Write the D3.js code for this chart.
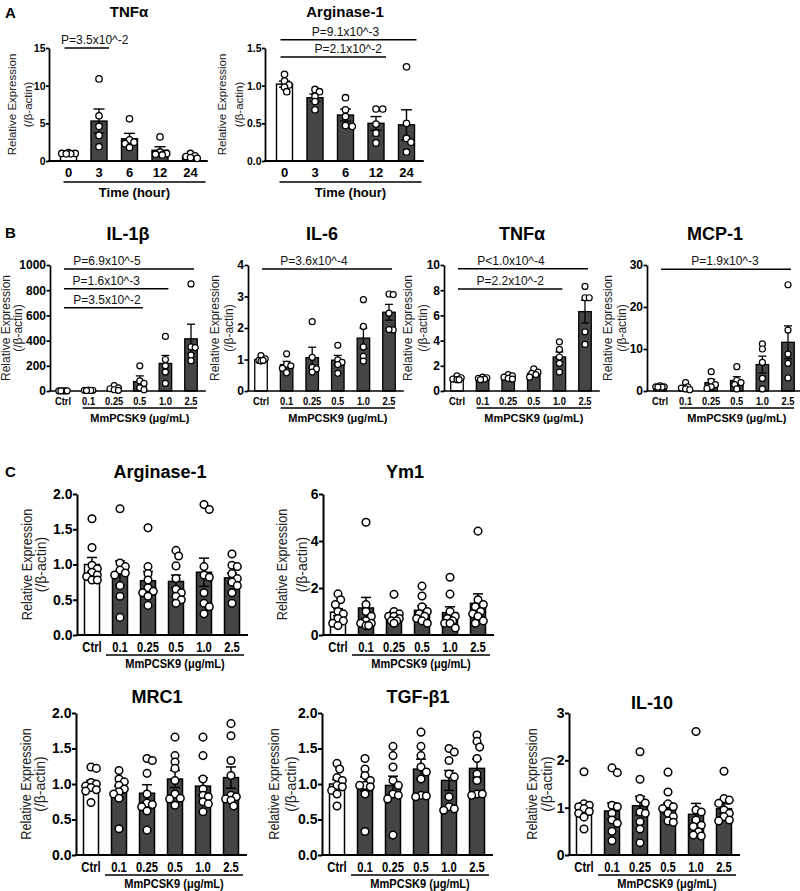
<!DOCTYPE html>
<html><head><meta charset="utf-8">
<script src="https://cdn.jsdelivr.net/npm/d3@7"></script>
<style>body{margin:0;background:#fff}svg{display:block}</style>
</head><body><svg id="fig" width="800" height="891"></svg>
<script>
// ---------------- DATA ----------------
const timeCats = ["0","3","6","12","24"];
const doseCats = ["Ctrl","0.1","0.25","0.5","1.0","2.5"];

// Panel A
const aTnfMean = [1.0, 5.3, 2.95, 1.42, 0.62];
const aTnfSem  = [0.04, 1.6, 0.72, 0.48, 0.11];
const aTnfPts  = [[1.1,1.0,1.0,0.95,0.95],[10.9,6.0,4.6,3.4,1.9],[5.6,2.8,2.5,2.3,1.8],[3.2,1.2,1.0,0.9,0.8],[1.0,0.7,0.6,0.45,0.35]];
const aTnfTicks = [0,5,10,15];
const aArgMean = [1.02,0.84,0.61,0.50,0.48];
const aArgSem  = [0.04,0.05,0.08,0.09,0.2];
const aArgPts  = [[1.15,1.06,1.01,0.98,0.92],[0.95,0.92,0.86,0.79,0.68],[0.84,0.68,0.59,0.47,0.46],[0.69,0.69,0.49,0.37,0.24],[1.25,0.5,0.3,0.25,0.12]];
const aArgTicks = [0,0.5,1.0,1.5];

// Panel B
const bIl1Mean = [1,5,20,75,219,414];
const bIl1Sem  = [0.3,1.5,8,45,63,116];
const bIl1Pts  = [[1.2,0.9,1.0,0.8,1.1],[8,6,5,4,3],[42,25,18,10,5],[200,80,60,25,10],[433,250,200,150,60],[850,350,345,285,240]];
const bIl1Ticks = [0,200,400,600,800,1000];
const bIl6Mean = [1.0,0.84,1.06,0.98,1.68,2.5];
const bIl6Sem  = [0.04,0.1,0.33,0.15,0.32,0.25];
const bIl6Pts  = [[1.12,1.02,0.97,0.95,0.97],[1.18,0.85,0.8,0.72,0.58],[2.2,1.07,0.75,0.7,0.6],[1.45,0.99,0.91,0.84,0.56],[2.9,2.05,1.4,1.1,0.95],[3.08,3.06,2.47,1.94,1.95]];
const bIl6Ticks = [0,1,2,3,4];
const bTnfMean = [1.0,1.0,1.1,1.4,2.7,6.3];
const bTnfSem  = [0.06,0.04,0.07,0.11,0.4,0.9];
const bTnfPts  = [[1.2,1.05,0.95,0.9,0.9],[1.1,1.05,1.0,0.95,0.9],[1.3,1.2,1.1,1.0,0.95],[1.75,1.5,1.4,1.3,1.1],[3.9,3.3,2.7,2.2,1.5],[8.3,7.4,7.4,4.7,3.7]];
const bTnfTicks = [0,2,4,6,8,10];
const bMcpMean = [1.0,0.9,2.0,2.5,6.3,11.6];
const bMcpSem  = [0.06,0.3,0.8,0.9,2.0,3.9];
const bMcpPts  = [[1.2,1.0,1.0,0.9,0.9],[2.0,1.0,0.7,0.5,0.3],[4.6,2.3,1.5,1.0,0.6],[5.8,2.5,2.0,1.5,0.5],[11.2,10.0,6.8,3.0,0.5],[25.3,14.5,8.8,6.6,3.1]];
const bMcpTicks = [0,10,20,30];

// Panel C
const cArgMean = [1.0,0.88,0.77,0.76,0.89,0.81];
const cArgSem  = [0.1,0.17,0.13,0.09,0.2,0.07];
const cArgPts  = [[1.65,1.24,0.99,0.94,0.89,0.85,0.83,0.78,0.78],[1.79,1.02,0.97,0.92,0.88,0.85,0.7,0.55,0.25],[1.52,0.97,0.87,0.78,0.67,0.62,0.6,0.55,0.42],[1.2,1.12,0.98,0.8,0.65,0.6,0.55,0.5,0.45],[1.85,1.78,0.97,0.85,0.82,0.6,0.45,0.4,0.3],[1.15,0.99,0.97,0.87,0.8,0.75,0.7,0.6,0.45]];
const cYm1Mean = [0.97,1.15,0.85,1.05,0.95,1.35];
const cYm1Sem  = [0.15,0.45,0.15,0.2,0.25,0.4];
const cYm1Pts  = [[1.75,1.5,1.3,1.0,0.9,0.7,0.6,0.5,0.4],[4.8,1.3,1.0,0.8,0.6,0.5,0.5,0.4,0.4],[1.73,1.0,0.9,0.8,0.8,0.7,0.6,0.6,0.5],[2.08,1.66,1.2,1.0,0.9,0.8,0.7,0.6,0.5],[2.46,1.74,1.0,0.8,0.7,0.6,0.5,0.5,0.3],[4.42,1.5,1.3,1.2,1.0,0.9,0.8,0.6,0.5]];
const cMrcMean = [1.0,0.89,0.87,1.07,0.97,1.09];
const cMrcSem  = [0.05,0.08,0.12,0.12,0.12,0.15];
const cMrcPts  = [[1.24,1.22,1.02,1.0,0.97,0.95,0.92,0.9,0.74],[1.19,1.07,1.03,0.98,0.93,0.89,0.86,0.8,0.37],[1.36,1.33,1.15,0.86,0.73,0.71,0.68,0.62,0.35],[1.66,1.4,1.31,1.22,1.05,0.86,0.8,0.79,0.7],[1.66,1.4,1.07,0.93,0.84,0.82,0.75,0.72,0.61],[1.85,1.68,1.33,1.12,0.84,0.82,0.79,0.77,0.69]];
const cTgfMean = [1.0,1.0,0.98,1.21,1.05,1.22];
const cTgfSem  = [0.06,0.1,0.13,0.14,0.14,0.13];
const cTgfPts  = [[1.29,1.21,1.09,1.05,0.98,0.96,0.91,0.86,0.69],[1.36,1.21,1.12,1.05,0.98,0.98,0.96,0.86,0.33],[1.53,1.4,1.24,1.05,0.98,0.86,0.84,0.79,0.28],[1.73,1.53,1.4,1.24,1.17,1.07,0.84,0.83,0.82],[1.5,1.45,1.33,1.14,1.1,0.82,0.68,0.65,0.63],[1.69,1.6,1.52,1.36,1.14,1.05,0.86,0.86,0.84]];
const cIl10Mean = [1.0,0.93,1.04,0.98,0.86,0.98];
const cIl10Sem  = [0.1,0.17,0.2,0.12,0.23,0.1];
const cIl10Pts  = [[1.76,1.08,1.05,1.02,0.98,0.92,0.88,0.8,0.55],[1.84,1.74,1.05,1.02,0.88,0.74,0.67,0.5,0.3],[2.18,1.6,1.19,1.1,0.91,0.88,0.7,0.55,0.26],[1.75,1.33,1.08,1.02,0.98,0.88,0.81,0.72,0.69],[2.61,0.95,0.91,0.74,0.63,0.6,0.49,0.42,0.4],[1.77,1.19,1.16,1.09,0.95,0.88,0.81,0.74,0.72]];
const c2Ticks = [0,0.5,1.0,1.5,2.0];
const cYm1Ticks = [0,2,4,6];
const cIl10Ticks = [0,1,2,3];

// significance annotations
const aTnfP = [{from:"0",to:"3",y:15,label:"P=3.5x10^-2"}];
const aArgP = [{from:"0",to:"24",y:1.61,label:"P=9.1x10^-3"},{from:"0",to:"12",y:1.38,label:"P=2.1x10^-2"}];
const bIl1P = [{from:"Ctrl",to:"2.5",y:969,label:"P=6.9x10^-5"},{from:"Ctrl",to:"1.0",y:811,label:"P=1.6x10^-3"},{from:"Ctrl",to:"0.5",y:661,label:"P=3.5x10^-2"}];
const bIl6P = [{from:"Ctrl",to:"2.5",y:3.87,label:"P=3.6x10^-4"}];
const bTnfP = [{from:"Ctrl",to:"2.5",y:9.7,label:"P<1.0x10^-4"},{from:"Ctrl",to:"1.0",y:8.1,label:"P=2.2x10^-2"}];
const bMcpP = [{from:"Ctrl",to:"2.5",y:29,label:"P=1.9x10^-3"}];

const yLab1 = "Relative Expression", yLab2 = "(/β-actin)";
const timeLabel = "Time (hour)", doseLabel = "MmPCSK9 (μg/mL)";

// ---------------- LAYOUT ----------------
const FONT = '"Liberation Sans", Arial, Helvetica, sans-serif';
const PA = {yTop:48,yBot:161,off:19.5,step:30.5,barW:16,capW:11,r:3.2,ptSW:1.3,barSW:1.4,axSW:1.8,tick:3,tpad:0.5,yTickFs:10.5,xTickFs:13,xSq:1,xLabY:177,ulY:182,ulL:-5,ulR:15,grpY:197,grpFs:13,grpSq:1,titleFs:15,titleY:17,tdx:80,ylFs:11.5,ylSq:1,annL:-4,annR:10,annFs:12};
const PB = {yTop:265,yBot:391,off:13,step:25.6,barW:12.5,capW:8,r:3,ptSW:1.2,barSW:1.3,axSW:1.7,tick:3.5,tpad:0.5,yTickFs:12,xTickFs:11,xSq:0.85,xLabY:405,ulY:408,ulL:-6,ulR:6,grpY:422,grpFs:11,grpSq:1,titleFs:18,titleY:240,tdx:75,ylFs:12,ylSq:1,annL:1,annR:3,annFs:12};
const PC1 = {yTop:494,yBot:635,off:15,step:28,barW:15,capW:10,r:3.8,ptSW:1.5,barSW:1.5,axSW:2,tick:4,tpad:0.5,yTickFs:14,xTickFs:14,xSq:0.8,xLabY:652,ulY:655,ulL:-14,ulR:12,grpY:668,grpFs:13,grpSq:0.85,titleFs:18,titleY:478,tdx:83,ylFs:14,ylSq:0.9,annL:0,annR:0,annFs:12};
const PC2 = Object.assign({}, PC1, {yTop:713,yBot:855,xLabY:872,ulY:875,grpY:888,titleY:703});

const charts = [
  {P:PA, ax:49, title:"TNFα", cats:timeCats, mean:aTnfMean, sem:aTnfSem, pts:aTnfPts, yMax:15, ticks:aTnfTicks, fmt:"d", yl:[-37,-21], ul:"0", grp:timeLabel, ann:aTnfP, annDx:[8]},
  {P:PA, ax:265, title:"Arginase-1", cats:timeCats, mean:aArgMean, sem:aArgSem, pts:aArgPts, yMax:1.5, ticks:aArgTicks, fmt:".1f", yl:[-43,-26], ul:"0", grp:timeLabel, ann:aArgP, annDx:[-3,15]},
  {P:PB, ax:50, title:"IL-1β", cats:doseCats, mean:bIl1Mean, sem:bIl1Sem, pts:bIl1Pts, yMax:1000, ticks:bIl1Ticks, fmt:"d", yl:[-44,-32], ul:"0.1", grp:doseLabel, ann:bIl1P, annDx:[-22,-10,3.5], tdx:78},
  {P:PB, ax:248, title:"IL-6", cats:doseCats, mean:bIl6Mean, sem:bIl6Sem, pts:bIl6Pts, yMax:4, ticks:bIl6Ticks, fmt:"d", yl:[-33,-19], ul:"0.1", grp:doseLabel, ann:bIl6P, annDx:[-13], tdx:74},
  {P:PB, ax:444, title:"TNFα", cats:doseCats, mean:bTnfMean, sem:bTnfSem, pts:bTnfPts, yMax:10, ticks:bTnfTicks, fmt:"d", yl:[-36,-21], ul:"0.1", grp:doseLabel, ann:bTnfP, annDx:[-12,0], tdx:78},
  {P:PB, ax:647, title:"MCP-1", cats:doseCats, mean:bMcpMean, sem:bMcpSem, pts:bMcpPts, yMax:30, ticks:bMcpTicks, fmt:"d", yl:[-39,-25], ul:"0.1", grp:doseLabel, ann:bMcpP, annDx:[-1], tdx:68},
  {P:PC1, ax:77, title:"Arginase-1", cats:doseCats, mean:cArgMean, sem:cArgSem, pts:cArgPts, yMax:2, ticks:c2Ticks, fmt:".1f", yl:[-50,-36], ul:"0.1", grp:doseLabel, ann:[], annDx:[]},
  {P:PC1, ax:323, title:"Ym1", cats:doseCats, mean:cYm1Mean, sem:cYm1Sem, pts:cYm1Pts, yMax:6, ticks:cYm1Ticks, fmt:"d", yl:[-41,-21], ul:"0.1", grp:doseLabel, ann:[], annDx:[], tdx:82},
  {P:PC2, ax:76, title:"MRC1", cats:doseCats, mean:cMrcMean, sem:cMrcSem, pts:cMrcPts, yMax:2, ticks:c2Ticks, fmt:".1f", yl:[-50,-36], ul:"0.1", grp:doseLabel, ann:[], annDx:[], tdx:81},
  {P:PC2, ax:322, title:"TGF-β1", cats:doseCats, mean:cTgfMean, sem:cTgfSem, pts:cTgfPts, yMax:2, ticks:c2Ticks, fmt:".1f", yl:[-48,-31], ul:"0.1", grp:doseLabel, ann:[], annDx:[], tdx:96},
  {P:PC2, ax:569, title:"IL-10", cats:doseCats, mean:cIl10Mean, sem:cIl10Sem, pts:cIl10Pts, yMax:3, ticks:cIl10Ticks, fmt:"d", yl:[-37,-22], ul:"0.1", grp:doseLabel, ann:[], annDx:[], tdx:83, ty:709}
];

const panelLetters = [{t:"A",x:5,y:18},{t:"B",x:5,y:238},{t:"C",x:5,y:477}];

// ---------------- DRAW ----------------
const svg = d3.select("#fig").attr("font-family", FONT);
svg.append("rect").attr("width",800).attr("height",891).attr("fill","#fff");

function squeeze(sel, k){
  if (k === 1) return;
  sel.each(function(){
    const w = this.getComputedTextLength();
    d3.select(this).attr("textLength", w*k).attr("lengthAdjust","spacingAndGlyphs");
  });
}

// compact column scatter: points spread sideways only within a limited width, overlap allowed
function swarm(vals, y, r, maxOff){
  const order = vals.map((v,i)=>({v,i})).sort((a,b)=>b.v-a.v);
  const placed = [], out = new Array(vals.length);
  const stepX = r*0.7;
  const cands = [0];
  for (let k=1; k*stepX <= maxOff + 0.01; k++){ cands.push(k*stepX, -k*stepX); }
  const need = 1.55*r;
  for (const o of order){
    const py = y(o.v);
    let best = 0, bestD = -1;
    for (const c of cands){
      const d = placed.length ? Math.min(...placed.map(p => Math.hypot(p.x-c, p.y-py))) : Infinity;
      if (d >= need){ best = c; bestD = d; break; }
      if (d > bestD){ bestD = d; best = c; }
    }
    placed.push({x:best, y:py});
    out[o.i] = best;
  }
  return out;
}

function drawChart(c){
  const P = c.P;
  const g = svg.append("g");
  const n = c.cats.length;
  const start = c.ax + P.off - P.step/2;
  const x = d3.scaleBand().domain(c.cats).range([start, start + P.step*n]).padding(0);
  const cx = k => x(k) + x.bandwidth()/2;
  const y = d3.scaleLinear().domain([0, c.yMax]).range([P.yBot, P.yTop]);

  // bars
  g.selectAll("rect.bar").data(c.cats).join("rect").attr("class","bar")
    .attr("x", k => cx(k) - P.barW/2).attr("width", P.barW)
    .attr("y", (k,i) => y(c.mean[i])).attr("height", (k,i) => y(0) - y(c.mean[i]))
    .attr("fill", (k,i) => i === 0 ? "#ffffff" : "#454545")
    .attr("stroke", "#000").attr("stroke-width", P.barSW);

  // error bars
  const eb = g.selectAll("g.eb").data(c.cats).join("g").attr("class","eb")
    .attr("stroke","#000").attr("stroke-width", P.barSW);
  eb.append("line").attr("x1", k=>cx(k)).attr("x2", k=>cx(k))
    .attr("y1", (k,i)=>y(c.mean[i]-c.sem[i])).attr("y2", (k,i)=>y(c.mean[i]+c.sem[i]));
  eb.append("line").attr("x1", k=>cx(k)-P.capW/2).attr("x2", k=>cx(k)+P.capW/2)
    .attr("y1", (k,i)=>y(c.mean[i]+c.sem[i])).attr("y2", (k,i)=>y(c.mean[i]+c.sem[i]));
  eb.append("line").attr("x1", k=>cx(k)-P.capW/2).attr("x2", k=>cx(k)+P.capW/2)
    .attr("y1", (k,i)=>y(c.mean[i]-c.sem[i])).attr("y2", (k,i)=>y(c.mean[i]-c.sem[i]));

  // x axis line
  g.append("line").attr("x1", c.ax - P.axSW/2).attr("x2", start + P.step*n + 2)
    .attr("y1", y(0)).attr("y2", y(0)).attr("stroke","#000").attr("stroke-width", P.axSW);

  // y axis
  const ya = d3.axisLeft(y).tickValues(c.ticks).tickFormat(d3.format(c.fmt))
    .tickSizeInner(P.tick).tickSizeOuter(0).tickPadding(P.tpad);
  const yg = g.append("g").attr("transform", `translate(${c.ax},0)`).call(ya)
    .attr("font-family", FONT).attr("font-size", P.yTickFs).attr("font-weight","bold");
  yg.select(".domain").attr("stroke","#000").attr("stroke-width", P.axSW);
  yg.selectAll(".tick line").attr("stroke","#000").attr("stroke-width", P.axSW);
  yg.selectAll(".tick text").attr("fill","#000");

  // x tick labels
  const xl = g.selectAll("text.xl").data(c.cats).join("text").attr("class","xl")
    .attr("x", k=>cx(k)).attr("y", P.xLabY).attr("text-anchor","middle")
    .attr("font-size", P.xTickFs).attr("font-weight","bold").attr("fill","#000").text(k=>k);
  squeeze(xl, P.xSq);

  // group underline + label
  const ux1 = cx(c.ul) + P.ulL, ux2 = cx(c.cats[n-1]) + P.ulR;
  g.append("line").attr("x1", ux1).attr("x2", ux2).attr("y1", P.ulY).attr("y2", P.ulY)
    .attr("stroke","#000").attr("stroke-width", 1.3);
  const gl = g.append("text").attr("x", (ux1+ux2)/2).attr("y", P.grpY).attr("text-anchor","middle")
    .attr("font-size", P.grpFs).attr("font-weight","bold").attr("fill","#000").text(c.grp);
  squeeze(gl, P.grpSq);

  // title
  g.append("text").attr("x", c.ax + (c.tdx ?? P.tdx)).attr("y", c.ty ?? P.titleY)
    .attr("text-anchor","middle").attr("font-size", P.titleFs).attr("font-weight","bold")
    .attr("fill","#000").text(c.title);

  // y labels
  const midY = (P.yTop + P.yBot)/2;
  const l1 = g.append("text").attr("transform", `translate(${c.ax + c.yl[0]},${midY}) rotate(-90)`)
    .attr("text-anchor","middle").attr("dominant-baseline","central")
    .attr("font-size", P.ylFs).attr("fill","#222").text(yLab1);
  squeeze(l1, P.ylSq);
  g.append("text").attr("transform", `translate(${c.ax + c.yl[1]},${midY}) rotate(-90)`)
    .attr("text-anchor","middle").attr("dominant-baseline","central")
    .attr("font-size", P.ylFs).attr("fill","#222").text(yLab2);

  // significance annotations
  c.ann.forEach((a, i) => {
    const x1 = cx(a.from) + P.annL, x2 = cx(a.to) + P.annR, yy = y(a.y);
    g.append("line").attr("x1", x1).attr("x2", x2).attr("y1", yy).attr("y2", yy)
      .attr("stroke","#000").attr("stroke-width", 1.5);
    g.append("text").attr("x", (x1+x2)/2 + c.annDx[i]).attr("y", yy - 4)
      .attr("text-anchor","middle").attr("font-size", P.annFs).attr("fill","#111").text(a.label);
  });

  // points
  c.cats.forEach((k, i) => {
    const vals = c.pts[i];
    const dxs = swarm(vals, y, P.r, P.barW/2);
    g.append("g").selectAll("circle").data(vals).join("circle")
      .attr("cx", (v,j) => cx(k) + dxs[j]).attr("cy", v => y(v)).attr("r", P.r)
      .attr("fill","#fff").attr("stroke","#000").attr("stroke-width", P.ptSW);
  });
}

charts.forEach(drawChart);

svg.selectAll("text.pl").data(panelLetters).join("text").attr("class","pl")
  .attr("x", d=>d.x).attr("y", d=>d.y).attr("font-size", 15).attr("font-weight","bold")
  .attr("fill","#000").text(d=>d.t);
</script></body></html>
